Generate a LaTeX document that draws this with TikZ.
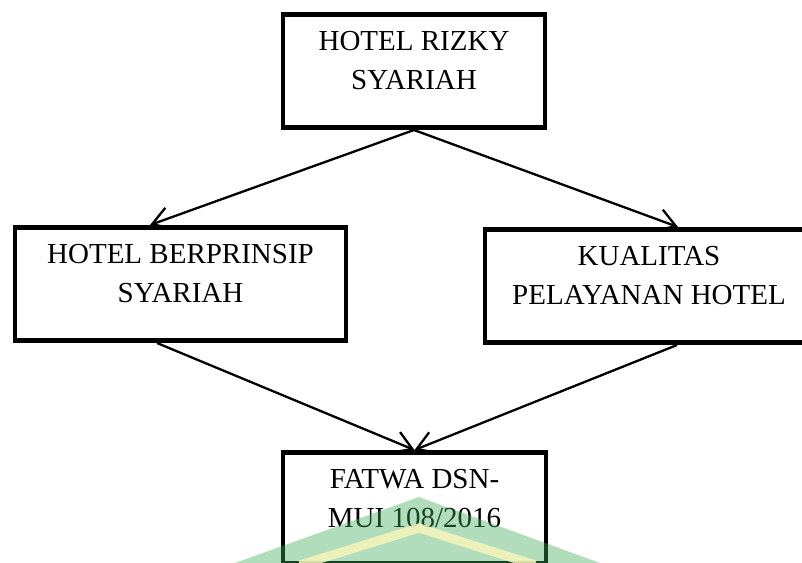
\documentclass[tikz,border=0pt]{standalone}
\usepackage{fontspec}
\setmainfont{Liberation Serif}
\usetikzlibrary{arrows.meta}
\definecolor{wmgreen}{RGB}{60,170,90}
\definecolor{wmyellow}{RGB}{245,245,185}

\begin{document}
\begin{tikzpicture}
  [x=1pt,y=1pt,
   every node/.style={draw,line width=4.8pt,align=center,anchor=north,
     inner xsep=0pt,inner ysep=17pt,text depth=21pt,
     font=\fontsize{29}{39}\selectfont},
   conn/.style={line width=2.3pt,-{Straight Barb[length=18pt,width=22pt]}}]
  \useasboundingbox (0,0) rectangle (802,-562);
  \clip (0,0) rectangle (802,-562);
  \node[minimum width=262pt] (rizky) at (414,-12) {HOTEL RIZKY\\SYARIAH};
  \node[minimum width=331pt] (prinsip) at (180.5,-225) {HOTEL BERPRINSIP\\SYARIAH};
  \node[minimum width=328pt] (kualitas) at (649,-227) {KUALITAS\\PELAYANAN HOTEL};
  \node[minimum width=263pt,text depth=19pt] (fatwa) at (414.5,-450) {FATWA DSN-\\MUI 108/2016};

  \coordinate (prinsipin) at ([xshift=-30.5pt]prinsip.north);
  \coordinate (prinsipout) at ([xshift=-23.5pt]prinsip.south);
  \coordinate (kualitasin) at ([xshift=29pt]kualitas.north);
  \coordinate (kualitasout) at ([xshift=28pt]kualitas.south);

  \foreach \from/\to in {rizky.south/prinsipin,rizky.south/kualitasin,
      prinsipout/fatwa.north,kualitasout/fatwa.north}
    \draw[conn] (\from) -- (\to);

  % watermark
  \fill[wmgreen,fill opacity=.4] (235,-563) -- (419,-497) -- (600,-563) -- cycle;
  \draw[wmyellow,line width=9pt,opacity=.85] (300,-565) -- (419,-528) -- (535,-565);
\end{tikzpicture}
\end{document}
